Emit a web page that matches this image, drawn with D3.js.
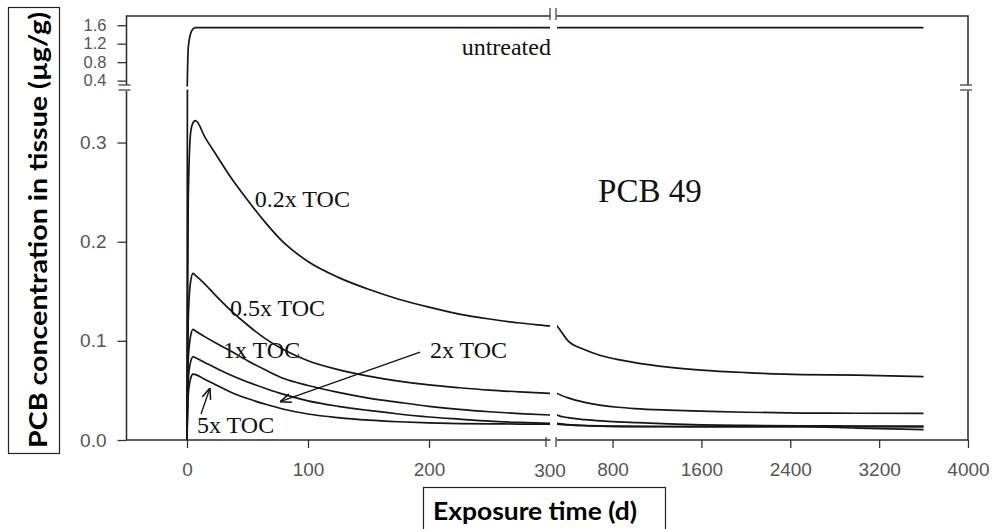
<!DOCTYPE html>
<html>
<head>
<meta charset="utf-8">
<script src="https://cdn.jsdelivr.net/npm/d3@7"></script>
<style>
  body { margin: 0; background: #fff; }
  svg { display: block; }
</style>
</head>
<body>
<div id="chart"></div>
<script>
// DATA
const days = [0, 1, 3, 5, 7, 15, 25, 35, 50, 65, 80, 100, 125, 150, 175, 200, 225, 250, 275, 300,
              400, 550, 700, 850, 1000, 1300, 1600, 2000, 2500, 3000, 3600]

const untreated = [0, 1.1, 1.42, 1.52, 1.55, 1.55, 1.55, 1.55, 1.55, 1.55, 1.55, 1.55, 1.55, 1.55, 1.55, 1.55, 1.55, 1.55, 1.55, 1.55,
                   1.55, 1.55, 1.55, 1.55, 1.55, 1.55, 1.55, 1.55, 1.55, 1.55, 1.55]
const toc02 = [0, 0.24, 0.31, 0.32, 0.322, 0.305, 0.286, 0.267, 0.242, 0.219, 0.199, 0.18, 0.164, 0.152, 0.142, 0.134, 0.127, 0.122, 0.118, 0.115,
               0.100, 0.091, 0.085, 0.081, 0.078, 0.0735, 0.0705, 0.068, 0.066, 0.0655, 0.064]
const toc05 = [0, 0.12, 0.16, 0.168, 0.166, 0.157, 0.144, 0.132, 0.116, 0.102, 0.091, 0.08, 0.071, 0.0645, 0.0594, 0.0555, 0.0527, 0.0503, 0.0485, 0.047,
               0.0425, 0.038, 0.035, 0.033, 0.0317, 0.0302, 0.0292, 0.028, 0.0272, 0.027, 0.0268]
const toc1 = [0, 0.08, 0.105, 0.1115, 0.11, 0.104, 0.097, 0.0905, 0.08, 0.0705, 0.062, 0.055, 0.048, 0.0423, 0.038, 0.034, 0.0309, 0.0285, 0.0266, 0.0252,
              0.0225, 0.0205, 0.0192, 0.0183, 0.0176, 0.0163, 0.0153, 0.0147, 0.0143, 0.0141, 0.014]
const toc2 = [0, 0.06, 0.079, 0.0839, 0.083, 0.078, 0.0718, 0.066, 0.0585, 0.052, 0.046, 0.0395, 0.034, 0.0298, 0.0262, 0.0232, 0.021, 0.019, 0.0177, 0.0168,
              0.0155, 0.0145, 0.0139, 0.0135, 0.0134, 0.0134, 0.0134, 0.0134, 0.0134, 0.0134, 0.0133]
const toc5 = [0, 0.045, 0.062, 0.0665, 0.066, 0.061, 0.055, 0.049, 0.0418, 0.036, 0.031, 0.0262, 0.0225, 0.02, 0.0184, 0.0173, 0.0166, 0.0163, 0.0161, 0.016,
              0.0152, 0.0146, 0.0142, 0.0139, 0.0137, 0.0136, 0.0135, 0.0134, 0.0134, 0.012, 0.0105]

const yTicksLow = [0, 0.1, 0.2, 0.3]
const yTicksHigh = [0.4, 0.8, 1.2, 1.6]
const xTicksLeft = [0, 100, 200]
const xTicksRight = [800, 1600, 2400, 3200, 4000]
const xBreakValue = 300

const width = 996, height = 529

// SCALES (broken axes: two x pieces, two y pieces)
const xLeft = d3.scaleLinear().domain([-50, 300]).range([126.5, 550])
const xRight = d3.scaleLinear().domain([300, 4000]).range([557, 968])
const yLow = d3.scaleLinear().domain([0, 0.355]).range([440, 88])
const yHigh = d3.scaleLinear().domain([0.24, 1.8]).range([88, 16])

const plotL = xLeft(-50), plotR = xRight(4000), plotT = yHigh(1.8), plotB = yLow(0)

const svg = d3.select("#chart")
  .append("svg")
  .attr("width", width)
  .attr("height", height)

const defs = svg.append("defs")

// clip boxes for the four panels
const clips = {
  leftLow:   [plotL, yLow(0.355) + 1.5, xLeft(300), plotB + 1],
  rightLow:  [xRight(300), yLow(0.355) + 1.5, plotR, plotB + 1],
  leftHigh:  [plotL, plotT, xLeft(300), yHigh(0.24) - 1.5],
  rightHigh: [xRight(300), plotT, plotR, yHigh(0.24) - 1.5]
}
Object.entries(clips).forEach(([id, b]) => {
  defs.append("clipPath").attr("id", id)
    .append("rect")
    .attr("x", b[0]).attr("y", b[1])
    .attr("width", b[2] - b[0]).attr("height", b[3] - b[1])
})

defs.append("marker")
  .attr("id", "arrow")
  .attr("viewBox", "0 0 10 10")
  .attr("refX", 10).attr("refY", 5)
  .attr("markerWidth", 11).attr("markerHeight", 11)
  .attr("markerUnits", "userSpaceOnUse")
  .attr("orient", "auto")
  .append("path")
  .attr("d", "M0,1 L10,5 L0,9")
  .attr("fill", "none")
  .attr("stroke", "#111")
  .attr("stroke-width", 1.4)

// DRAW CURVES
const lowSeries = [toc02, toc05, toc1, toc2, toc5]

function drawLine(values, xs, ys, clipId) {
  const line = d3.line()
    .x((d, i) => xs(days[i]))
    .y(d => ys(d))
    .curve(d3.curveMonotoneX)
  svg.append("path")
    .datum(values)
    .attr("clip-path", `url(#${clipId})`)
    .attr("d", line)
    .attr("fill", "none")
    .attr("stroke", "#151515")
    .attr("stroke-width", 1.7)
}

lowSeries.concat([untreated]).forEach(v => {
  drawLine(v, xLeft, yLow, "leftLow")
  drawLine(v, xRight, yLow, "rightLow")
})
drawLine(untreated, xLeft, yHigh, "leftHigh")
drawLine(untreated, xRight, yHigh, "rightHigh")

// FRAME
svg.append("rect")
  .attr("x", plotL).attr("y", plotT)
  .attr("width", plotR - plotL).attr("height", plotB - plotT)
  .attr("fill", "none")
  .attr("stroke", "#2a2a2a")
  .attr("stroke-width", 1.5)

// AXES
const tickFont = size => g => g
  .call(g => g.select(".domain").remove())
  .call(g => g.selectAll(".tick line").attr("stroke", "#333").attr("stroke-width", 1.3))
  .call(g => g.selectAll(".tick text")
    .attr("fill", "#555")
    .attr("font-family", "Liberation Sans, Arial, sans-serif")
    .attr("font-size", size))

svg.append("g")
  .attr("transform", `translate(${plotL},0)`)
  .call(d3.axisLeft(yLow).tickValues(yTicksLow).tickFormat(d3.format(".1f")).tickSize(9).tickPadding(11))
  .call(tickFont(19))

// top piece: labels packed tight, so a touch smaller
svg.append("g")
  .attr("transform", `translate(${plotL},0)`)
  .call(d3.axisLeft(yHigh).tickValues(yTicksHigh).tickFormat(d3.format(".1f")).tickSize(9).tickPadding(11))
  .call(tickFont(16.5))

svg.append("g")
  .attr("transform", `translate(0,${plotB})`)
  .call(d3.axisBottom(xLeft).tickValues(xTicksLeft).tickFormat(d3.format("d")).tickSize(8).tickPadding(15))
  .call(tickFont(19))

svg.append("g")
  .attr("transform", `translate(0,${plotB})`)
  .call(d3.axisBottom(xRight).tickValues(xTicksRight).tickFormat(d3.format("d")).tickSize(8).tickPadding(15))
  .call(tickFont(19))

svg.append("text")
  .attr("x", xLeft(xBreakValue))
  .attr("y", plotB + 37)
  .attr("text-anchor", "middle")
  .attr("fill", "#555")
  .attr("font-family", "Liberation Sans, Arial, sans-serif")
  .attr("font-size", 19)
  .text(xBreakValue)

// BREAK MARKS
const xb0 = xLeft(300), xb1 = xRight(300), yb = yLow(0.355)
const mark = (x1, y1, x2, y2) => svg.append("line")
  .attr("x1", x1).attr("y1", y1).attr("x2", x2).attr("y2", y2)
  .attr("stroke", "#444").attr("stroke-width", 1.3)

// gap in top and bottom edges
;[plotT, plotB].forEach(y => {
  svg.append("rect").attr("x", xb0 + 0.5).attr("y", y - 2).attr("width", xb1 - xb0 - 1).attr("height", 4).attr("fill", "#fff")
})
mark(xb0, plotT - 8, xb0, plotT + 4)
mark(xb1 - 1, plotT - 8, xb1 - 1, plotT + 4)
mark(xb0 - 4, plotB - 3, xb0 - 4, plotB + 7)
mark(xb1 - 1, plotB - 3, xb1 - 1, plotB + 7)

// gap in left and right edges
;[plotL, plotR].forEach(x => {
  svg.append("rect").attr("x", x - 2).attr("y", yb - 3).attr("width", 4).attr("height", 6).attr("fill", "#fff")
  mark(x - 8, yb - 3, x + 4, yb - 3)
  mark(x - 8, yb + 2, x + 4, yb + 2)
})

// LABELS
const serif = "Liberation Serif, Times New Roman, serif"
function note(text, x, y, size) {
  svg.append("text")
    .attr("x", x).attr("y", y)
    .attr("font-family", serif)
    .attr("font-size", size)
    .attr("fill", "#111")
    .text(text)
}
note("untreated", xLeft(227), yHigh(0.954), 24)
note("0.2x TOC", xLeft(56), yLow(0.2346), 24)
note("0.5x TOC", xLeft(35.5), yLow(0.1249), 24)
note("1x TOC", xLeft(29.8), yLow(0.0826), 24)
note("2x TOC", xLeft(200.8), yLow(0.0826), 24)
note("5x TOC", xLeft(8.3), yLow(0.007), 24)
note("PCB 49", xLeft(339.7), yLow(0.2397), 33)

function arrow(d0, v0, d1, v1) {
  svg.append("line")
    .attr("x1", xLeft(d0)).attr("y1", yLow(v0))
    .attr("x2", xLeft(d1)).attr("y2", yLow(v1))
    .attr("stroke", "#111")
    .attr("stroke-width", 1.3)
    .attr("marker-end", "url(#arrow)")
}
arrow(192.6, 0.0886, 76.9, 0.0386)
arrow(11.6, 0.0262, 19, 0.0524)

// AXIS TITLES (boxed)
svg.append("rect")
  .attr("x", 8.5).attr("y", 7.5).attr("width", 51).attr("height", 446)
  .attr("fill", "none").attr("stroke", "#222").attr("stroke-width", 1.2)

svg.append("text")
  .attr("transform", "translate(47,230) rotate(-90)")
  .attr("text-anchor", "middle")
  .attr("font-family", "Lato, Open Sans, sans-serif")
  .attr("font-weight", "bold")
  .attr("font-size", 24)
  .attr("textLength", 436)
  .attr("lengthAdjust", "spacingAndGlyphs")
  .attr("fill", "#000")
  .text("PCB concentration in tissue (µg/g)")

svg.append("rect")
  .attr("x", 423.5).attr("y", 487.5).attr("width", 242).attr("height", 60)
  .attr("fill", "none").attr("stroke", "#222").attr("stroke-width", 1.2)

svg.append("text")
  .attr("x", 433).attr("y", 520)
  .attr("font-family", "Lato, Open Sans, sans-serif")
  .attr("font-weight", "bold")
  .attr("font-size", 24)
  .attr("textLength", 204)
  .attr("lengthAdjust", "spacingAndGlyphs")
  .attr("fill", "#000")
  .text("Exposure time (d)")
</script>
</body>
</html>
